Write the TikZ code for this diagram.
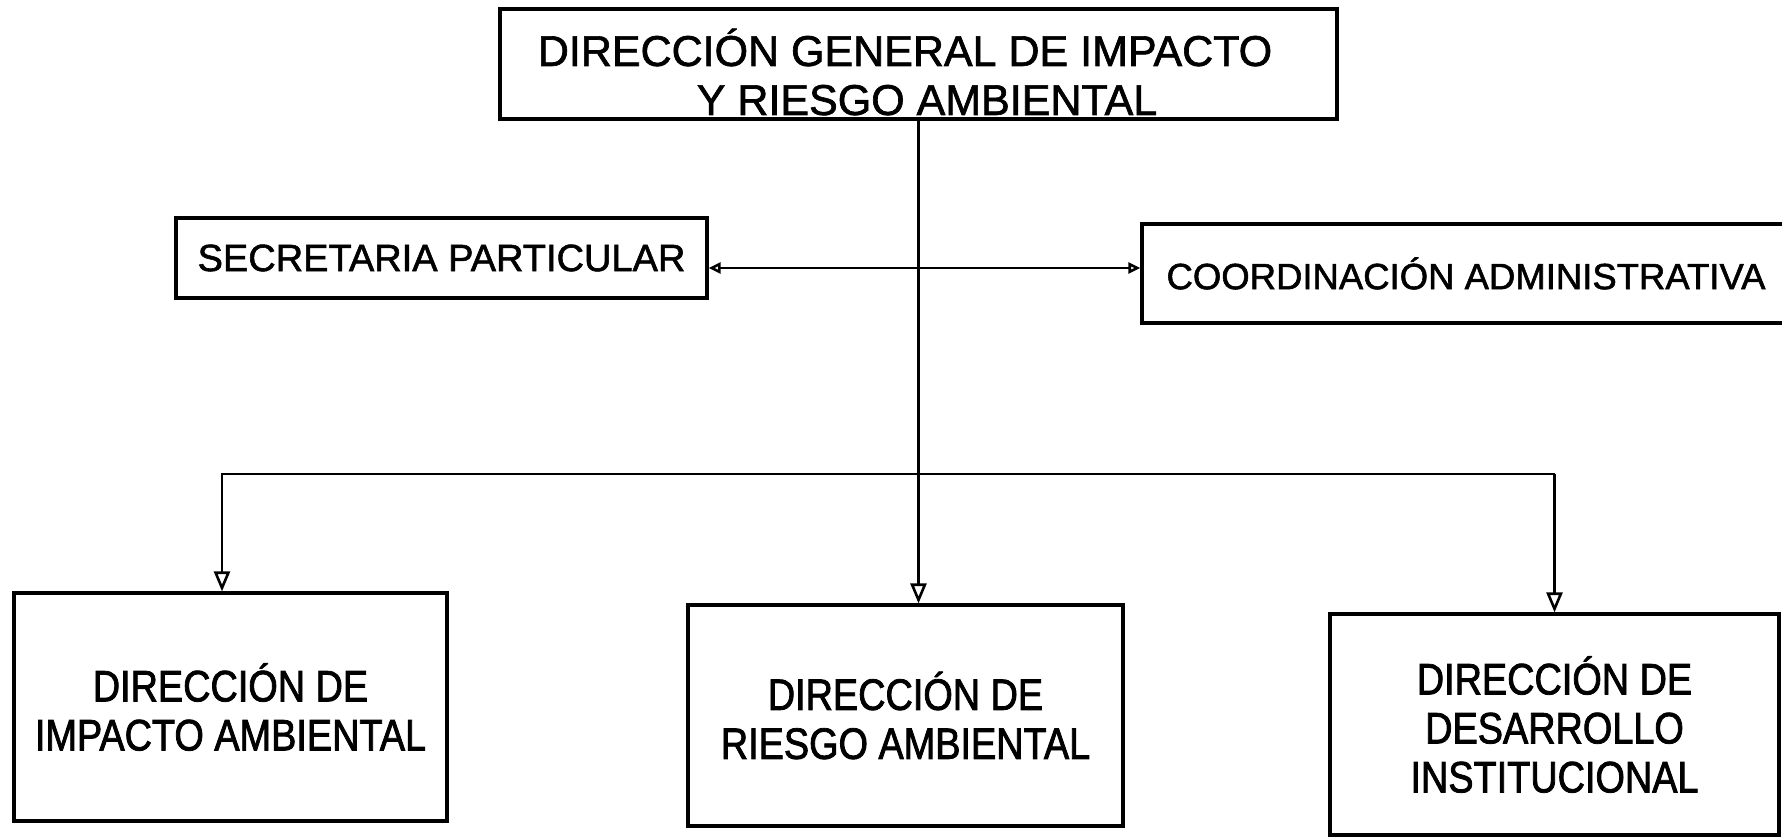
\documentclass[tikz,border=0pt]{standalone}
\usepackage{fontspec}
\setmainfont{Liberation Sans}[FakeBold=1.2,AutoFakeBold=1.2]
\newfontfamily\regfont{Liberation Sans}[FakeBold=1.5]
\newfontfamily\condfont{Liberation Sans}[FakeStretch=0.86,FakeBold=1.8]
\usetikzlibrary{arrows.meta}
\begin{document}
\begin{tikzpicture}[x=1pt,y=-1pt,
  box/.style={draw, line width=3.2pt, rectangle, inner sep=0pt, align=center},
  conn/.style={line width=2.6pt},
  bigarrow/.style={-{Triangle[open,length=20pt,width=16pt]}},
  smalltip/.style={{Triangle[open,length=12pt,width=11pt]}-{Triangle[open,length=12pt,width=11pt]}},
  bottomtext/.style={font=\condfont\fontsize{44}{49}\selectfont}
  ]
\useasboundingbox (0,0) rectangle (1782,839);
\fill[white] (0,0) rectangle (1782,839);

\node[box, minimum width=837pt, minimum height=110pt] (top) at (918.5,64) {};
\node[font=\regfont\fontsize{43}{49}\selectfont, align=center] (toptxt) at (905,72)
  {DIRECCIÓN GENERAL DE IMPACTO\\\hspace*{44pt}Y RIESGO AMBIENTAL};

\node[box, minimum width=531pt, minimum height=80pt, font=\regfont\fontsize{38}{44}\selectfont] (sec) at (441.5,258) {SECRETARIA PARTICULAR};
\node[box, minimum width=648pt, minimum height=99pt, font=\regfont\fontsize{36.5}{44}\selectfont] (coord) at (1466,273.5) {COORDINACIÓN ADMINISTRATIVA};

\node[box, bottomtext, minimum width=433pt, minimum height=228pt] (imp) at (230.5,707) {DIRECCIÓN DE\\IMPACTO AMBIENTAL};
\node[box, bottomtext, minimum width=435pt, minimum height=221pt] (rie) at (905.5,715.5) {DIRECCIÓN DE\\RIESGO AMBIENTAL};
\node[box, bottomtext, minimum width=449pt, minimum height=221pt] (des) at (1554.5,724.5) {DIRECCIÓN DE\\DESARROLLO\\INSTITUCIONAL};

\coordinate (hy) at (0,268);
\coordinate (bus) at (0,474);
\coordinate (impx) at (222,0);

\draw[conn, smalltip] (sec.east |- hy) -- (coord.west |- hy);
\draw[conn, bigarrow] (top.south) -- (top.south |- rie.north);
\draw[conn, bigarrow, line join=miter] (des.north |- bus) -- (impx |- bus) -- (impx |- imp.north);
\draw[conn, bigarrow] (des.north |- bus) -- (des.north);
\end{tikzpicture}
\end{document}
